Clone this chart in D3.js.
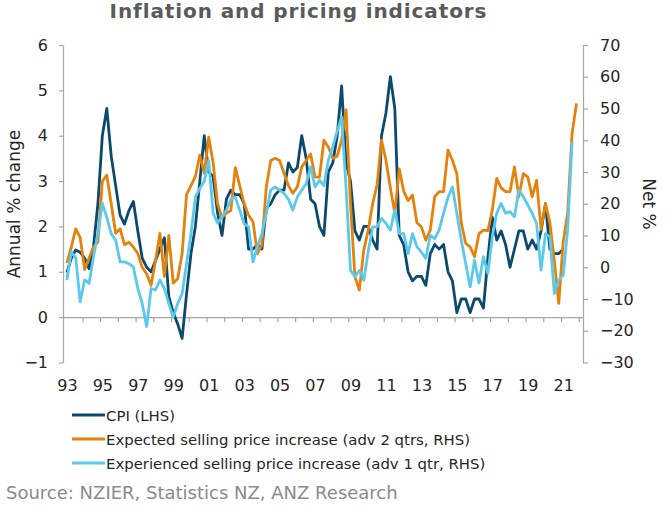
<!DOCTYPE html>
<html><head><meta charset="utf-8">
<script src="https://cdn.jsdelivr.net/npm/d3@7"></script>
<style>
body{margin:0;background:#fff;}
svg{display:block;font-family:"DejaVu Sans",Verdana,sans-serif;}
</style>
</head><body>
<svg id="chart" width="670" height="510"></svg>
<script>
// ---- data (quarterly, first point = 1993 Q1) ----
const xLabels = ["93","95","97","99","01","03","05","07","09","11","13","15","17","19","21"];
const leftTicks = [-1,0,1,2,3,4,5,6];
const rightTicks = [-30,-20,-10,0,10,20,30,40,50,60,70];

// CPI annual % change (LHS)
const cpi = [0.98,1.3,1.48,1.43,1.3,1.07,1.55,2.5,4.0,4.6,
3.55,2.9,2.25,2.05,2.35,2.55,1.9,1.3,1.1,1.0,
1.25,1.5,1.75,0.45,0.1,-0.15,-0.47,0.5,1.4,2.0,
3.0,4.0,3.2,3.1,2.3,1.8,2.6,2.8,2.7,2.7,
2.5,1.5,1.5,1.6,1.5,2.4,2.5,2.7,2.8,2.8,
3.4,3.2,3.3,4.0,3.5,2.6,2.5,2.0,1.8,3.2,
3.4,4.0,5.1,3.4,3.0,1.9,1.7,2.0,2.0,1.7,
1.5,4.0,4.5,5.3,4.6,1.8,1.6,1.0,0.8,0.9,
0.9,0.7,1.4,1.6,1.5,1.6,1.0,0.8,0.1,0.4,
0.4,0.1,0.4,0.4,0.2,1.3,2.2,1.7,1.9,1.6,
1.1,1.5,1.9,1.9,1.5,1.7,1.5,1.9,2.5,1.5,
1.4,1.4,1.5];

// Expected selling price increase, net % (adv 2 qtrs, RHS)
const expected = [1.4,6.4,12.1,9.3,-0.7,2.9,6.4,7.9,27.1,29.0,
20.0,10.7,12.1,7.1,7.9,6.4,4.3,0.0,-2.1,-5.7,
2.1,10.7,-2.9,10.0,-5.0,-3.6,4.3,22.9,25.7,28.6,
35.3,29.6,41.0,32.9,20.0,15.7,17.1,17.9,31.4,25.7,
20.0,16.4,14.3,4.3,7.1,25.3,33.6,34.3,33.6,29.6,
25.7,23.3,25.3,31.6,33.6,35.7,28.4,28.4,40.0,37.9,
34.3,35.0,40.0,49.6,20.0,-3.0,-7.2,5.4,11.7,20.0,
26.0,40.0,33.7,25.0,17.0,31.0,24.0,21.0,22.7,14.0,
12.7,8.5,11.7,22.2,23.8,23.8,36.9,33.7,29.5,14.0,
7.5,6.4,3.3,10.6,11.7,11.5,18.0,28.0,25.0,23.8,
23.8,31.6,22.2,29.5,28.5,22.2,27.4,12.0,20.0,14.0,
2.0,-11.4,8.0,17.0,42.0,51.6];

// Experienced selling price increase, net % (adv 1 qtr, RHS)
const experienced = [-4.0,4.9,2.9,-10.9,-4.0,-5.1,3.3,10.6,20.1,15.7,
10.6,8.6,1.7,1.7,1.1,0.1,-6.7,-11.4,-18.7,-6.7,
-7.1,-4.0,-6.7,-11.4,-15.7,-11.4,-8.3,1.1,10.6,22.1,
24.9,27.1,33.7,17.1,13.9,15.9,18.0,21.4,22.1,17.9,
13.7,12.7,1.7,6.4,10.6,16.9,24.3,25.3,24.3,23.3,
21.4,18.0,22.1,24.3,26.3,31.6,25.3,27.4,25.7,33.7,
37.9,42.9,47.4,25.0,-1.0,-3.0,-1.0,-4.1,5.0,12.7,
12.7,15.4,13.8,11.7,18.0,10.6,10.6,4.3,10.6,6.4,
4.8,2.8,10.1,9.0,11.7,17.0,22.0,25.3,17.0,8.5,
1.2,-6.2,2.2,-5.0,3.3,-1.9,9.6,17.0,20.1,17.0,
17.5,15.9,24.3,22.2,19.6,17.0,13.8,-0.9,10.6,9.6,
-8.3,-4.1,-2.5,11.7,39.5];

const seriesNames = ["CPI (LHS)","Expected selling price increase (adv 2 qtrs, RHS)","Experienced selling price increase (adv 1 qtr, RHS)"];
const seriesColors = ["#0b4a6e","#e5820c","#5cc8ea"];

// ---- drawing ----
const svg = d3.select("#chart");
const x = d3.scaleLinear().domain([-0.88, 116.47]).range([63, 583]);
const yL = d3.scaleLinear().domain([-1, 6]).range([362.5, 45]);
const yR = d3.scaleLinear().domain([-30, 70]).range([362.5, 45]);

const axisColor = "#a6a6a6";
const textColor = "#262626";

function styleAxis(g){
  g.selectAll(".domain").attr("stroke", axisColor).attr("stroke-width", 1.2);
  g.selectAll(".tick line").attr("stroke", axisColor).attr("stroke-width", 1.2);
  g.selectAll(".tick text").attr("fill", textColor).style("font-size","16px").style("font-family",'"DejaVu Sans",Verdana,sans-serif');
}

// left axis
svg.append("g").attr("transform","translate(63,0)")
  .call(d3.axisLeft(yL).tickValues(leftTicks).tickSize(4).tickSizeOuter(0).tickPadding(11).tickFormat(d3.format("d")))
  .call(styleAxis);
// right axis
svg.append("g").attr("transform","translate(583,0)")
  .call(d3.axisRight(yR).tickValues(rightTicks).tickSize(5).tickSizeOuter(0).tickPadding(12).tickFormat(d3.format("d")))
  .call(styleAxis);
// x axis (tick marks at year boundaries)
const tickPos = d3.range(3.5, 116, 4);
svg.append("g").attr("transform",`translate(0,${yL(0)})`)
  .call(d3.axisBottom(x).tickValues(tickPos).tickSize(5).tickSizeOuter(0).tickFormat(""))
  .call(styleAxis);
// x labels
svg.append("g").attr("transform","translate(0,380)")
  .call(d3.axisBottom(x).tickValues(xLabels.map((d,k)=>8*k)).tickSize(0).tickPadding(0).tickFormat((d,k)=>xLabels[k]))
  .call(styleAxis)
  .call(g=>g.select(".domain").remove());

// lines
const lineL = d3.line().x((d,i)=>x(i)).y(d=>yL(d));
const lineR = d3.line().x((d,i)=>x(i)).y(d=>yR(d));
const lines = [[cpi,lineL],[expected,lineR],[experienced,lineR]];
lines.forEach(([data,gen],k)=>{
  svg.append("path").datum(data).attr("d",gen).attr("fill","none")
    .attr("stroke",seriesColors[k]).attr("stroke-width",2.8)
    .attr("stroke-linejoin","round").attr("stroke-linecap","butt");
});

// title
svg.append("text").attr("x",298.5).attr("y",17.5).attr("text-anchor","middle")
  .style("font-size","20px").style("font-weight","bold").style("letter-spacing","0.9px")
  .attr("fill","#5a5a5a").text("Inflation and pricing indicators");

// axis titles
svg.append("text").attr("transform","translate(20,204) rotate(-90)").attr("text-anchor","middle")
  .style("font-size","17px").attr("fill",textColor).text("Annual % change");
svg.append("text").attr("transform","translate(643,204) rotate(90)").attr("text-anchor","middle")
  .style("font-size","17px").attr("fill",textColor).text("Net %");

// legend
const leg = svg.append("g");
seriesNames.forEach((name,k)=>{
  const yy = 415 + k*24;
  leg.append("line").attr("x1",72).attr("x2",105).attr("y1",yy).attr("y2",yy)
    .attr("stroke",seriesColors[k]).attr("stroke-width",3);
  leg.append("text").attr("x",106).attr("y",yy+5.5).style("font-size","14.9px")
    .attr("fill",textColor).text(name);
});

// source
svg.append("text").attr("x",6).attr("y",499).style("font-size","18px")
  .attr("fill","#8a8a8a").text("Source: NZIER, Statistics NZ, ANZ Research");
</script>
</body></html>
